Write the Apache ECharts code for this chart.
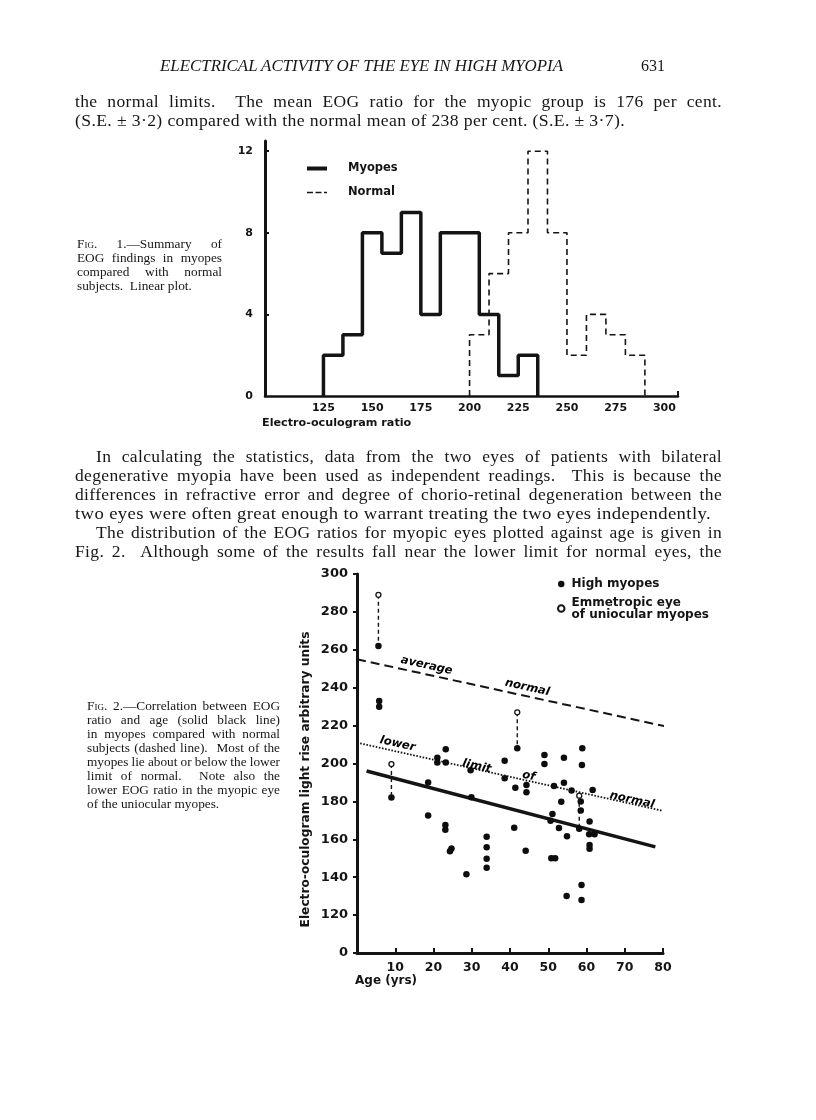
<!DOCTYPE html>
<html><head><meta charset="utf-8">
<script src="https://cdn.jsdelivr.net/npm/echarts@6/dist/echarts.min.js"></script>
<style>
html,body{margin:0;padding:0;background:#fff;}
#page{position:relative;width:816px;height:1120px;overflow:hidden;background:#fff;}
#chart{position:absolute;left:0;top:0;width:816px;height:1120px;}
.t{position:absolute;display:inline-block;white-space:pre;font-family:"Liberation Serif","DejaVu Serif",serif;color:#161616;}
.b{font-size:17.5px;line-height:19px;letter-spacing:0.35px;}
.c{font-size:13.3px;line-height:14px;}
.sc{font-variant:small-caps;}
</style></head>
<body><div id="page"><div id="chart"></div>
<div class="t" data-s="403" style="left:160px;top:56px;font-size:16px;line-height:20px;font-style:italic;">ELECTRICAL ACTIVITY OF THE EYE IN HIGH MYOPIA</div>
<div class="t" style="left:641px;top:56px;font-size:16px;line-height:20px;">631</div>
<div class="t b" data-w="647" style="left:75px;top:91.5px;">the normal limits.  The mean EOG ratio for the myopic group is 176 per cent.</div>
<div class="t b" data-s="550" style="left:75px;top:110.5px;">(S.E. ± 3·2) compared with the normal mean of 238 per cent. (S.E. ± 3·7).</div>

<div class="t c" data-w="145" style="left:77px;top:237px;"><span class="sc">Fig</span>. 1.—Summary of</div>
<div class="t c" data-w="145" style="left:77px;top:251px;">EOG findings in myopes</div>
<div class="t c" data-w="145" style="left:77px;top:265px;">compared with normal</div>
<div class="t c" style="left:77px;top:279px;">subjects.  Linear plot.</div>

<div class="t b" data-w="626" style="left:96px;top:446.5px;">In calculating the statistics, data from the two eyes of patients with bilateral</div>
<div class="t b" data-w="647" style="left:75px;top:465.5px;">degenerative myopia have been used as independent readings.  This is because the</div>
<div class="t b" data-w="647" style="left:75px;top:484.5px;">differences in refractive error and degree of chorio-retinal degeneration between the</div>
<div class="t b" data-s="636" style="left:75px;top:503.5px;">two eyes were often great enough to warrant treating the two eyes independently.</div>
<div class="t b" data-w="626" style="left:96px;top:522.5px;">The distribution of the EOG ratios for myopic eyes plotted against age is given in</div>
<div class="t b" data-w="647" style="left:75px;top:541.5px;">Fig. 2.  Although some of the results fall near the lower limit for normal eyes, the</div>

<div class="t c" data-w="193" style="left:87px;top:699px;"><span class="sc">Fig</span>. 2.—Correlation between EOG</div>
<div class="t c" data-w="193" style="left:87px;top:713px;">ratio and age (solid black line)</div>
<div class="t c" data-w="193" style="left:87px;top:727px;">in myopes compared with normal</div>
<div class="t c" data-w="193" style="left:87px;top:741px;">subjects (dashed line).  Most of the</div>
<div class="t c" data-w="193" style="left:87px;top:755px;">myopes lie about or below the lower</div>
<div class="t c" data-w="193" style="left:87px;top:769px;">limit of normal.  Note also the</div>
<div class="t c" data-w="193" style="left:87px;top:783px;">lower EOG ratio in the myopic eye</div>
<div class="t c" style="left:87px;top:797px;">of the uniocular myopes.</div>
</div>
<script>
// ---------- Fig. 1 data (histogram of EOG ratio) ----------
const binWidth = 10;
const myopesBinStarts = [125, 135, 145, 155, 165, 175, 185, 195, 205, 215, 225];
const myopesCounts    = [2, 3, 8, 7, 9, 4, 8, 8, 4, 1, 2];
const normalBinStarts = [200, 210, 220, 230, 240, 250, 260, 270, 280];
const normalCounts    = [3, 6, 8, 12, 8, 2, 4, 3, 2];
const fig1XTicks = [125, 150, 175, 200, 225, 250, 275, 300];
const fig1YTicks = [0, 4, 8, 12];

// ---------- Fig. 2 data (EOG vs age) ----------
const myopesAge = [5.6, 5.8, 5.8, 9, 18.6, 18.6, 21, 21, 23.2, 23.2, 23.1, 23.1, 24.7, 24.3, 28.6, 29.7,
  29.9, 33.9, 33.9, 33.9, 33.9, 38.6, 38.6, 41.4, 41.9, 41.1, 44.3, 44.3, 44.1, 49, 49, 51.5,
  51.1, 50.6, 52.8, 50.8, 51.8, 53.4, 54.1, 54.1, 54.9, 54.8, 56.1, 58.9, 58.8, 58.5, 58.5, 58.1,
  58.7, 58.7, 61.6, 60.8, 60.7, 62.1, 60.8, 60.8];
const myopesEOG = [262, 233, 230, 182, 190, 172.5, 203, 200.5, 207.5, 200.5, 167.5, 165, 155.2, 153.7, 141.5, 196.5,
  182.2, 161.4, 155.8, 149.8, 145, 201.5, 192.2, 187.2, 208, 166.1, 188.7, 184.8, 154, 204.5, 199.7, 188.1,
  173.4, 169.8, 166, 150, 150, 179.8, 203, 189.8, 161.6, 130.1, 185.8, 208, 199.2, 180, 175.2, 165.6,
  135.9, 128, 186, 169.4, 162.6, 162.7, 157, 155];
const emmetropicAge = [5.6, 9, 41.9, 58.1];
const emmetropicEOG = [289, 199.7, 227, 183];
const pairedMyopicEOG = [262, 182, 208, 165.6];
const averageNormalAge = [0, 82];
const averageNormalEOG = [255, 219];
const lowerLimitAge = [0, 80];
const lowerLimitEOG = [211, 175];
const regressionAge = [2.5, 78];
const regressionEOG = [196, 156];
const lineLabelText = ['average', 'normal', 'lower', 'limit', 'of', 'normal'];
const lineLabelAge  = [18.2, 44.5, 10.6, 31.3, 44.9, 71.9];
const lineLabelEOG  = [251.7, 240.1, 210.3, 198.5, 193.4, 180.7];

// ---------- helpers ----------
function stepData(starts, counts, w) {
  const d = [[starts[0], 0]];
  starts.forEach((s, i) => { d.push([s, counts[i]]); d.push([s + w, counts[i]]); });
  d.push([starts[starts.length - 1] + w, 0]);
  return d;
}
const zip = (a, b) => a.map((v, i) => [v, b[i]]);
const INK = '#141414';
const SANS = '"DejaVu Sans", sans-serif';
const EMM = 'Emmetropic eye of uniocular myopes';

const connectorSeries = emmetropicAge.map((a, i) => ({
  type: 'line', xAxisIndex: 1, yAxisIndex: 1, symbol: 'none', silent: true, z: 3,
  data: [[a, emmetropicEOG[i]], [a, pairedMyopicEOG[i]]],
  lineStyle: { color: INK, width: 1.4, type: [4, 3] }
}));

const chart = echarts.init(document.getElementById('chart'));
chart.setOption({
  animation: false,
  backgroundColor: 'transparent',
  textStyle: { fontFamily: SANS, color: INK },
  grid: [
    { left: 265, top: 141, width: 413, height: 255 },
    { left: 357, top: 574, width: 306, height: 379 }
  ],
  xAxis: [
    { gridIndex: 0, type: 'value', min: 95, max: 307,
      axisLine: { onZero: false, lineStyle: { color: INK, width: 2.5 } },
      axisTick: { show: true, inside: true, length: 5, customValues: [307], lineStyle: { color: INK, width: 2 } },
      axisLabel: { customValues: fig1XTicks, color: INK, fontFamily: SANS, fontWeight: 'bold', fontSize: 11, margin: 7 },
      splitLine: { show: false } },
    { gridIndex: 1, type: 'value', min: 0, max: 80, interval: 10,
      axisLine: { onZero: false, lineStyle: { color: INK, width: 3 } },
      axisTick: { show: true, inside: true, length: 5, lineStyle: { color: INK, width: 2 } },
      axisLabel: { color: INK, fontFamily: SANS, fontWeight: 'bold', fontSize: 12.5, margin: 8,
        formatter: v => v === 0 ? '' : String(v) },
      splitLine: { show: false } }
  ],
  yAxis: [
    { gridIndex: 0, type: 'value', min: 0, max: 12.5,
      axisLine: { show: true, onZero: false, lineStyle: { color: INK, width: 3 } },
      axisTick: { show: true, inside: true, length: 4, customValues: [4, 8, 12], lineStyle: { color: INK, width: 2 } },
      axisLabel: { customValues: fig1YTicks, color: INK, fontFamily: SANS, fontWeight: 'bold', fontSize: 11, margin: 12 },
      splitLine: { show: false } },
    { gridIndex: 1, type: 'value', min: 100, max: 300, interval: 20,
      axisLine: { show: true, onZero: false, lineStyle: { color: INK, width: 3 } },
      axisTick: { show: true, inside: false, length: 4, lineStyle: { color: INK, width: 2 } },
      axisLabel: { color: INK, fontFamily: SANS, fontWeight: 'bold', fontSize: 13, margin: 9,
        formatter: v => v === 100 ? '0' : String(v) },
      splitLine: { show: false },
      name: 'Electro-oculogram light rise arbitrary units', nameLocation: 'middle', nameRotate: 90, nameGap: 45,
      nameTextStyle: { color: INK, fontFamily: SANS, fontWeight: 'bold', fontSize: 12.2, padding: [0, 32, 0, 0] } }
  ],
  legend: [
    { data: [
        { name: 'Myopes', icon: 'path://M0,0H20V4H0Z' },
        { name: 'Normal', icon: 'path://M0,0H0.01M0,1.3H6V2.7H0Z M8.5,1.3H14.5V2.7H8.5Z M17,1.3H20V2.7H17Z M0,4H0.01' }
      ],
      orient: 'vertical', left: 302, top: 157.5, itemWidth: 20, itemHeight: 4, itemGap: 12,
      itemStyle: { color: INK, borderWidth: 0 },
      textStyle: { color: INK, fontFamily: SANS, fontWeight: 'bold', fontSize: 11.5, padding: [0, 0, 0, 16] } },
    { data: ['High myopes', { name: EMM, textStyle: { padding: [0, 0, -12, 2] } }],
      orient: 'vertical', left: 552, top: 573, itemWidth: 6.5, itemHeight: 6.5, itemGap: 6.5, align: 'left',
      formatter: n => n === EMM ? 'Emmetropic eye\nof uniocular myopes' : n,
      textStyle: { color: INK, fontFamily: SANS, fontWeight: 'bold', fontSize: 12, lineHeight: 12, padding: [0, 0, 0, 2] } }
  ],
  graphic: [
    { type: 'text', left: 262, top: 418, style: { text: 'Electro-oculogram ratio', fill: INK, font: 'bold 11.2px "DejaVu Sans"' } },
    { type: 'text', left: 355, top: 975, style: { text: 'Age (yrs)', fill: INK, font: 'bold 12px "DejaVu Sans"' } }
  ],
  series: [
    { name: 'Myopes', type: 'line', xAxisIndex: 0, yAxisIndex: 0, symbol: 'none',
      data: stepData(myopesBinStarts, myopesCounts, binWidth),
      lineStyle: { color: INK, width: 3.5 }, itemStyle: { color: INK }, z: 4 },
    { name: 'Normal', type: 'line', xAxisIndex: 0, yAxisIndex: 0, symbol: 'none',
      data: stepData(normalBinStarts, normalCounts, binWidth),
      lineStyle: { color: INK, width: 1.6, type: [6, 4] }, itemStyle: { color: INK }, z: 3 },
    { name: 'Average normal', type: 'line', xAxisIndex: 1, yAxisIndex: 1, symbol: 'none', clip: false,
      data: zip(averageNormalAge, averageNormalEOG), lineStyle: { color: INK, width: 2, type: [9, 5] } },
    { name: 'Lower limit of normal', type: 'line', xAxisIndex: 1, yAxisIndex: 1, symbol: 'none', clip: false,
      data: zip(lowerLimitAge, lowerLimitEOG), lineStyle: { color: INK, width: 1.8, type: [1.6, 1.6] } },
    { name: 'Myopes regression', type: 'line', xAxisIndex: 1, yAxisIndex: 1, symbol: 'none', clip: false,
      data: zip(regressionAge, regressionEOG), lineStyle: { color: INK, width: 3.6 } },
    ...connectorSeries,
    { name: 'High myopes', type: 'scatter', xAxisIndex: 1, yAxisIndex: 1, symbol: 'circle', symbolSize: 6.5,
      data: zip(myopesAge, myopesEOG), itemStyle: { color: '#0d0d0d', opacity: 1 }, z: 4 },
    { name: EMM, type: 'scatter', xAxisIndex: 1, yAxisIndex: 1, symbol: 'circle',
      symbolSize: 5, data: zip(emmetropicAge, emmetropicEOG),
      itemStyle: { color: '#fff', borderColor: INK, borderWidth: 1.3, opacity: 1 }, z: 5 },
    { name: 'line labels', type: 'scatter', xAxisIndex: 1, yAxisIndex: 1, symbolSize: 0, silent: true, z: 6,
      itemStyle: { color: '#000', opacity: 1 },
      data: lineLabelText.map((t, i) => ({ name: t, value: [lineLabelAge[i], lineLabelEOG[i]] })),
      label: { show: true, position: 'inside', formatter: '{b}', rotate: -12.5, color: '#000', opacity: 1,
        textBorderWidth: 0, textBorderColor: 'transparent', textShadowBlur: 0,
        fontFamily: SANS, fontStyle: 'italic', fontWeight: 'bold', fontSize: 11.5 } }
  ]
});

// ---------- justify prose lines ----------
document.querySelectorAll('[data-w]').forEach(el => {
  const target = +el.dataset.w;
  const nat = el.getBoundingClientRect().width;
  const spaces = (el.textContent.match(/ /g) || []).length;
  if (spaces) el.style.wordSpacing = ((target - nat) / spaces) + 'px';
});
document.querySelectorAll('[data-s]').forEach(el => {
  const target = +el.dataset.s;
  const nat = el.getBoundingClientRect().width;
  el.style.transformOrigin = 'left center';
  el.style.transform = 'scaleX(' + (target / nat) + ')';
});
</script>
</body></html>
